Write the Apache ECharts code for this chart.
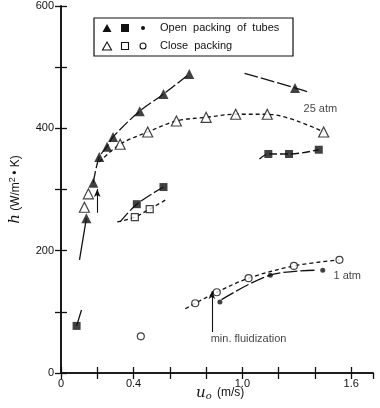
<!DOCTYPE html>
<html><head><meta charset="utf-8">
<script src="https://cdn.jsdelivr.net/npm/echarts@6/dist/echarts.min.js"></script>
<style>html,body{margin:0;padding:0;background:#fff}#c{width:380px;height:408px}</style>
</head><body><div id="c"></div>
<script>
// ---- data (x = u_o m/s, y = h W/m2K) ----
const openTri   = [[0.140,253],[0.178,311],[0.211,353],[0.254,370],[0.287,386],[0.434,428],[0.565,456],[0.707,489],[1.290,466]];
const closeTri  = [[0.129,271],[0.151,293],[0.326,374],[0.478,394],[0.636,412],[0.800,418],[0.963,423],[1.137,423],[1.448,394]];
const openSq    = [[0.086,77],[0.418,276],[0.565,304],[1.143,358],[1.257,358],[1.421,365]];
const closeSq   = [[0.407,255],[0.489,268]];
const openDot   = [[0.876,116],[1.154,160],[1.443,168]];
const closeCirc = [[0.440,60],[0.740,114],[0.859,132],[1.034,155],[1.284,175],[1.535,185]];

// fitted curves drawn in the figure
const triCurveLow  = [[0.102,185],[0.140,253]];
const triCurve     = [[0.178,311],[0.211,353],[0.254,370],[0.287,386],[0.434,428],[0.565,456],[0.707,489]];
const triCurveHigh = [[1.012,490],[1.290,466],[1.366,459]];
const dTriCurve    = [[0.211,345],[0.326,374],[0.478,394],[0.636,412],[0.800,418],[0.963,423],[1.137,423],[1.448,394]];
const sqCurveA     = [[0.086,77],[0.113,103]];
const sqCurveB     = [[0.326,247],[0.418,276],[0.565,304]];
const sqCurveC     = [[1.094,350],[1.143,358],[1.257,358],[1.421,365]];
const dSqCurve     = [[0.31,247],[0.407,255],[0.489,268],[0.577,283]];
const circCurve    = [[0.685,105],[0.740,114],[0.859,132],[1.034,155],[1.284,175],[1.535,185]];
const dotCurve     = [[0.885,120],[1.154,160],[1.41,168]];

const xTickLabels = ['0','0.4','1.0','1.6'];
const yTickLabels = ['0','200','400','600'];
const annotations = [[1.43,432,'25 atm'],[1.578,159,'1 atm'],[1.034,56,'min. fluidization']];
const arrows = [[[0.832,67],[0.832,134]],[[0.200,262],[0.200,301]]];

const FONT = 'Liberation Sans, Arial, sans-serif';
const chart = echarts.init(document.getElementById('c'));

function curve(data, dash){
  return {type:'line', data:data, smooth:0.35, symbol:'none', silent:true,
    lineStyle:{color:'#111', width:1.3, type:dash}, z:2};
}
function marks(data, symbol, size, filled){
  return {type:'scatter', data:data, symbol:symbol, symbolSize:size, silent:true, z:5,
    itemStyle:{color: filled ? '#111' : '#fff', borderColor:'#111', borderWidth: filled?0:1.2}};
}

const axisCommon = {
  axisLine:{show:true, lineStyle:{color:'#111', width:1.6}},
  axisTick:{show:true, inside:true, length:6, lineStyle:{color:'#111', width:1.3}},
  splitLine:{show:false}
};

const option = {
  animation:false,
  backgroundColor:'#fff',
  grid:{left:57, right:7, top:6, bottom:35, containLabel:false},
  xAxis:[
    Object.assign({type:'value', min:0, max:1.72, interval:0.2, position:'bottom',
      axisLabel:{color:'#111', fontFamily:FONT, fontSize:11, margin:5, showMaxLabel:false,
        formatter:function(v){const s=(Math.round(v*10)/10).toFixed(1); const t = s==='0.0'?'0':s; return xTickLabels.indexOf(t)>=0?t:'';}}}, axisCommon),
    Object.assign({type:'value', min:0, max:1.72, interval:0.2, position:'top', axisLabel:{show:false}}, axisCommon)
  ],
  yAxis:[
    Object.assign({type:'value', min:0, max:600, interval:100, position:'left',
      axisLabel:{color:'#111', fontFamily:FONT, fontSize:11, margin:7,
        formatter:function(v){const t=String(Math.round(v)); return yTickLabels.indexOf(t)>=0?t:'';}},
      name:'{i|h}{t| (W/m}{s|2}{t|\u2009\u2022 K)}', nameLocation:'middle', nameRotate:90, nameGap:38,
      nameTextStyle:{color:'#111', fontFamily:FONT, fontSize:12,
        rich:{i:{fontFamily:'DejaVu Serif, serif', fontStyle:'italic', fontSize:15, color:'#111'},
              t:{fontFamily:FONT, fontSize:12, color:'#111'},
              s:{fontFamily:FONT, fontSize:9, verticalAlign:'top', color:'#111', padding:[0,0,6,0]}}}}, axisCommon),
    Object.assign({type:'value', min:0, max:600, interval:100, position:'right', axisLabel:{show:false}}, axisCommon)
  ],
  series:[
    curve(triCurveLow,'solid'), curve(triCurve,[12,3]), curve(triCurveHigh,[14,3]),
    curve(dTriCurve,[4,3]),
    curve(sqCurveA,'solid'), curve(sqCurveB,[12,3]), curve(sqCurveC,[8,3]),
    curve(dSqCurve,[4,3]),
    curve(circCurve,[4,3]), curve(dotCurve,[14,3]),
    marks(openTri,'triangle',10,true),
    marks(closeTri,'triangle',10,false),
    marks(openSq,'rect',8,true),
    marks(closeSq,'rect',7,false),
    marks(openDot,'circle',5,true),
    marks(closeCirc,'circle',7,false),
    {type:'scatter', data:annotations, symbolSize:1, silent:true, itemStyle:{color:'rgba(0,0,0,0)'},
      label:{show:true, position:'inside', color:'#111', fontFamily:FONT, fontSize:11,
        formatter:function(p){return p.data[2];}}},
    {type:'line', data:[], silent:true,
      markLine:{silent:true, symbol:['none','arrow'], symbolSize:[5,8], label:{show:false},
        lineStyle:{color:'#111', width:1.1, type:'solid'},
        data: arrows.map(a=>[{coord:a[0]},{coord:a[1]}])}}
  ],
  graphic:[
    {type:'rect', shape:{x:94, y:18, width:199, height:38}, style:{fill:'#fff', stroke:'#111', lineWidth:1.2}, z:20},
    {type:'polygon', shape:{points:[[107,24],[111.5,32],[102.5,32]]}, style:{fill:'#111'}, z:21},
    {type:'rect', shape:{x:121, y:24, width:8, height:8}, style:{fill:'#111'}, z:21},
    {type:'circle', shape:{cx:143, cy:28, r:2}, style:{fill:'#111'}, z:21},
    {type:'text', x:160, y:28, style:{text:'Open  packing  of  tubes', font:'11px '+FONT, fill:'#111', verticalAlign:'middle'}, z:21},
    {type:'polygon', shape:{points:[[107,42],[111.5,50],[102.5,50]]}, style:{fill:'#fff', stroke:'#111', lineWidth:1.1}, z:21},
    {type:'rect', shape:{x:121.5, y:42.5, width:7, height:7}, style:{fill:'#fff', stroke:'#111', lineWidth:1.1}, z:21},
    {type:'circle', shape:{cx:143, cy:46, r:3}, style:{fill:'#fff', stroke:'#111', lineWidth:1.1}, z:21},
    {type:'text', x:160, y:46, style:{text:'Close  packing', font:'11px '+FONT, fill:'#111', verticalAlign:'middle'}, z:21},
    {type:'text', x:196, y:393, style:{
      text:'{u|u}{o|o}{t| (m/s)}', fill:'#111', verticalAlign:'middle',
      rich:{u:{fontFamily:'DejaVu Serif, serif', fontStyle:'italic', fontSize:15, fill:'#111'},
            o:{fontFamily:'DejaVu Serif, serif', fontStyle:'italic', fontSize:10, fill:'#111', padding:[6,2,0,0]},
            t:{fontFamily:FONT, fontSize:12, fill:'#111'}}}, z:21}
  ]
};
chart.setOption(option);
</script></body></html>
